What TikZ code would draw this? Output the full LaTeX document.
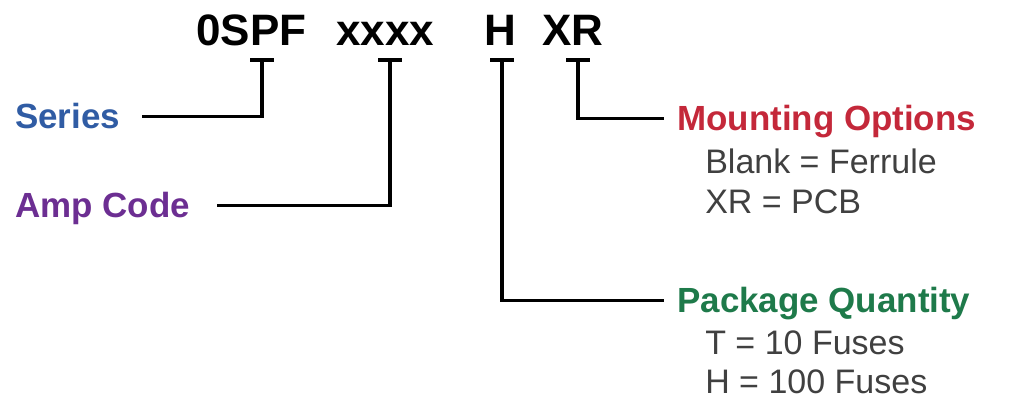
\documentclass[tikz,border=0pt]{standalone}
\usepackage{fontspec}
\setmainfont{Liberation Sans}
\definecolor{serblue}{RGB}{48,92,164}
\definecolor{amppurple}{RGB}{108,46,146}
\definecolor{mntred}{RGB}{196,40,58}
\definecolor{pkggreen}{RGB}{30,122,74}
\definecolor{subgray}{RGB}{64,64,64}
\begin{document}
\begin{tikzpicture}[x=0.75pt,y=-0.75pt,
  code/.style={anchor=base west,inner sep=0pt,font=\fontsize{33}{36}\selectfont\bfseries},
  lbl/.style={anchor=base west,inner sep=0pt,text height=17pt,text depth=0pt,font=\fontsize{26.2}{30}\selectfont\bfseries},
  sub/.style={anchor=base west,inner sep=0pt,text=subgray,font=\fontsize{25.5}{30}\selectfont},
  conn/.style={line width=2.3pt,black},
  tbar/.style={line width=2.3pt,black}]
\useasboundingbox (0,0) rectangle (1019,397);
% code
\node[code] (c1) at (196,45) {0SPF};
\node[code] (c2) at (336,45) {xxxx};
\node[code] (c3) at (484,45) {H};
\node[code] (c4) at (542,45) {XR};
% labels
\node[lbl,text=serblue] (ser) at (15,128) {Series};
\node[lbl,text=amppurple] (amp) at (15,217) {Amp Code};
\node[lbl,text=mntred] (mnt) at (677,130) {Mounting Options};
\node[sub] (mnt1) at (705,173) {Blank = Ferrule};
\node[sub] (mnt2) at (705,213) {XR = PCB};
\node[lbl,text=pkggreen] (pkg) at (677,312) {Package Quantity};
\node[sub] (pkg1) at (705,354) {T = 10 Fuses};
\node[sub] (pkg2) at (705,393) {H = 100 Fuses};
% T-bar tops
\coordinate (t1) at (262,60);
\coordinate (t2) at (390,60);
\coordinate (t3) at (502,60);
\coordinate (t4) at (578,60);
\foreach \t in {t1,t2,t3,t4}{
  \draw[tbar] ([xshift=-9]\t) -- ([xshift=9]\t);
}
% connectors
\draw[conn] (t1) |- ([xshift=16]ser.east);
\draw[conn] (t2) |- ([xshift=20]amp.east);
\draw[conn] (t3) |- ([xshift=-10]pkg.west);
\draw[conn] (t4) |- ([xshift=-10]mnt.west);
\end{tikzpicture}
\end{document}
